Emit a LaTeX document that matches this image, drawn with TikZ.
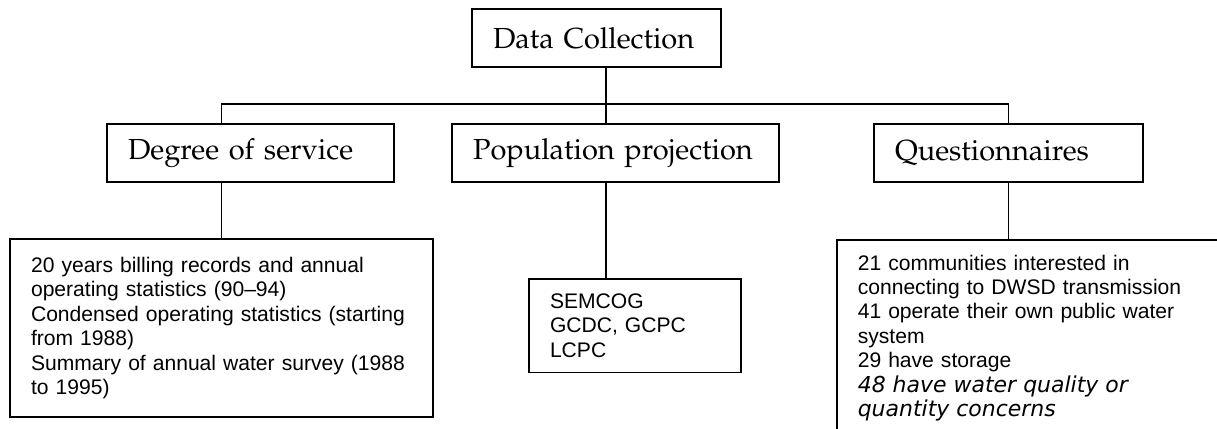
\documentclass[tikz,border=0pt]{standalone}
\usepackage[T1]{fontenc}
\usepackage{fontspec}
\newfontfamily\arialfont{Liberation Sans}
\newfontfamily\verdanafont{DejaVu Sans}
\usetikzlibrary{arrows,positioning,calc}
\tikzset{every node/.append style={scale=1}}
\tikzset{
  headbox/.style={draw, line width=0.9pt, align=left, inner xsep=0.42cm, inner ysep=0pt,
    minimum height=1.16cm,
    font=\fontencoding{T1}\fontfamily{ppl}\fontsize{16.5}{19}\selectfont},
  listbox/.style={draw, line width=0.9pt, align=left, inner xsep=0.42cm, inner ysep=0.3cm,
    font=\arialfont\fontsize{12}{13.9}\selectfont},
  bus/.style={line width=0.9pt}
}
\newcommand{\qitline}[1]{{\verdanafont\itshape\fontsize{12.5}{13.9}\selectfont #1}}

\begin{document}
\begin{tikzpicture}[x=0.02cm,y=-0.02cm]
        \useasboundingbox (0,0) rectangle (1217,429);
        \clip (0,0) rectangle (1217,429);

        % top level
        \node [headbox, text width=4.14cm] (dc) at (596.5,38) {Data Collection};
        \coordinate (jc) at (606,104);

        % second level
        \node [headbox, text width=4.90cm] (deg) at (250.5,153) {Degree of service};
        \node [headbox, text width=5.70cm] (pop) at (615.5,153) {Population projection};
        \node [headbox, text width=4.54cm] (que) at (1008.5,153) {Questionnaires};

        % lists
        \node [listbox, text width=7.62cm, minimum height=3.56cm] (degl) at (221.5,328)
          {20 years billing records and annual\\
           operating statistics (90–94)\\
           Condensed operating statistics (starting\\
           from 1988)\\
           Summary of annual water survey (1988\\
           to 1995)};
        \node [listbox, text width=3.40cm, anchor=north] (popl) at (635,278)
          {SEMCOG\\
           GCDC, GCPC\\
           LCPC};
        \node [listbox, text width=9cm, anchor=north west] (quel) at (836,239)
          {21 communities interested in\\
           connecting to DWSD transmission\\
           41 operate their own public water\\
           system\\
           29 have storage\\
           \qitline{48 have water quality or}\\
           \qitline{quantity concerns}};

        % connectors
        \draw [bus] (dc.south -| jc) -- (pop.north -| jc);
        \draw [bus] (deg.north -| degl.north) |- (jc) -| (que.north);
        \draw [bus] (deg.south -| degl.north) -- (degl.north);
        \draw [bus] (pop.south -| jc) -- (popl.north -| jc);
        \draw [bus] (que.south) -- (que.south |- quel.north);
\end{tikzpicture}
\end{document}
